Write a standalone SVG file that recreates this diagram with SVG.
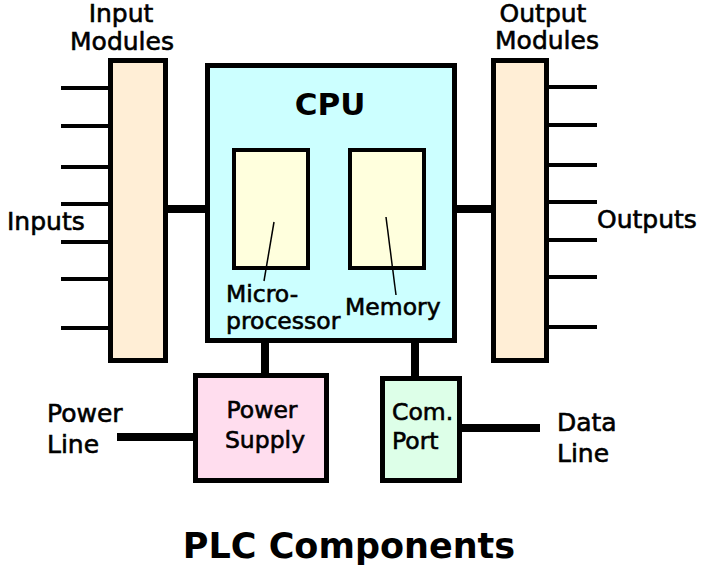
<svg xmlns="http://www.w3.org/2000/svg" width="720" height="581" viewBox="0 0 720 581">
<style>
.box{stroke:#000;stroke-width:5}
.inner{stroke:#000;stroke-width:4;fill:#FFFFDD}
.mod{fill:#FFEED6}
.pin{stroke:#000;stroke-width:4}
.bus{stroke:#000;stroke-width:8}
.lead{stroke:#000;stroke-width:1.5}
text{font-family:"DejaVu Sans","Liberation Sans",sans-serif;font-size:25px;fill:#000;stroke:#000;stroke-width:0.6}
.lbl{font-size:23.5px}
.big{font-size:31px;font-weight:bold;stroke-width:0}
.title{font-size:35px;font-weight:bold;stroke-width:0}
</style>
<rect width="720" height="581" fill="#fff"/>
<g id="connectors">
<line class="pin" x1="61" y1="88" x2="109" y2="88"/>
<line class="pin" x1="61" y1="126" x2="109" y2="126"/>
<line class="pin" x1="61" y1="167" x2="109" y2="167"/>
<line class="pin" x1="61" y1="204" x2="109" y2="204"/>
<line class="pin" x1="61" y1="242" x2="109" y2="242"/>
<line class="pin" x1="61" y1="279" x2="109" y2="279"/>
<line class="pin" x1="61" y1="328" x2="109" y2="328"/>
<line class="pin" x1="548" y1="87" x2="597" y2="87"/>
<line class="pin" x1="548" y1="125" x2="597" y2="125"/>
<line class="pin" x1="548" y1="165" x2="597" y2="165"/>
<line class="pin" x1="548" y1="202" x2="597" y2="202"/>
<line class="pin" x1="548" y1="240" x2="597" y2="240"/>
<line class="pin" x1="548" y1="277" x2="597" y2="277"/>
<line class="pin" x1="548" y1="327" x2="597" y2="327"/>
<line class="bus" x1="167" y1="209" x2="206" y2="209"/>
<line class="bus" x1="456" y1="209" x2="492" y2="209"/>
<line class="bus" x1="265" y1="342" x2="265" y2="374"/>
<line class="bus" x1="415" y1="342" x2="415" y2="377"/>
<line class="bus" x1="117" y1="437" x2="194" y2="437"/>
<line class="bus" x1="461" y1="428" x2="540" y2="428"/>
</g>
<g id="input-modules">
<rect class="box mod" x="110.5" y="60.5" width="55" height="300"/>
<text x="121" y="22" text-anchor="middle">Input</text>
<text x="122" y="50" text-anchor="middle">Modules</text>
<text x="7" y="230">Inputs</text>
</g>
<g id="cpu">
<rect class="box" fill="#CCFFFF" x="207.5" y="65.5" width="247" height="275"/>
<text class="big" x="330" y="115" text-anchor="middle">CPU</text>
</g>
<g id="microprocessor">
<rect class="inner" x="234" y="150" width="74" height="118"/>
<line class="lead" x1="274" y1="222" x2="264" y2="281"/>
<text class="lbl" x="226" y="302">Micro-</text>
<text class="lbl" x="226" y="329">processor</text>
</g>
<g id="memory">
<rect class="inner" x="350" y="150" width="74" height="118"/>
<line class="lead" x1="386" y1="217" x2="396" y2="295"/>
<text class="lbl" x="345" y="315">Memory</text>
</g>
<g id="output-modules">
<rect class="box mod" x="493.5" y="60.5" width="53" height="300"/>
<text x="543" y="22" text-anchor="middle">Output</text>
<text x="547" y="49" text-anchor="middle">Modules</text>
<text x="597" y="228">Outputs</text>
</g>
<g id="power-supply">
<rect class="box" fill="#FFDDEE" x="195.5" y="375.5" width="131" height="105"/>
<text class="lbl" x="262" y="418" text-anchor="middle">Power</text>
<text class="lbl" x="265" y="448" text-anchor="middle">Supply</text>
</g>
<g id="power-line">
<text x="47" y="422">Power</text>
<text x="47" y="453">Line</text>
</g>
<g id="com-port">
<rect class="box" fill="#DDFFE8" x="382.5" y="378.5" width="77" height="102"/>
<text class="lbl" x="392" y="420">Com.</text>
<text class="lbl" x="392" y="449">Port</text>
</g>
<g id="data-line">
<text x="557" y="431">Data</text>
<text x="557" y="462">Line</text>
</g>
<g id="title">
<text class="title" x="349" y="558" text-anchor="middle">PLC Components</text>
</g>
</svg>
